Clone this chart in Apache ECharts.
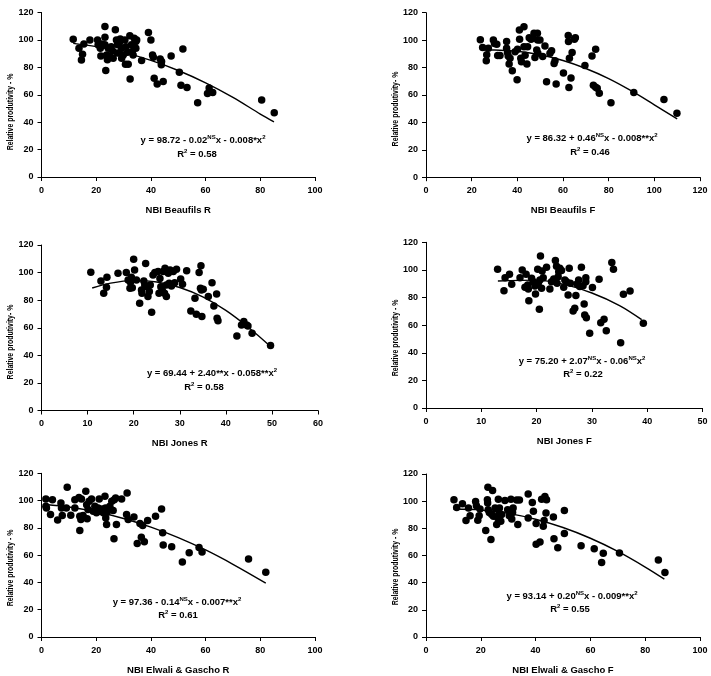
<!DOCTYPE html>
<html><head><meta charset="utf-8">
<script src="https://cdn.jsdelivr.net/npm/echarts@6/dist/echarts.min.js"></script>
<style>html,body{margin:0;padding:0;background:#fff}#c{width:711px;height:676px}</style>
</head><body><div id="c"></div>
<script>
// ---------- DATA ----------
const yTicks = [0, 20, 40, 60, 80, 100, 120];

const beaufilsR = [[11.6,100.5],[13.7,94],[15.5,97],[15,89.6],[14.6,85.3],[17.7,100],[20.5,100],[20.7,96.4],[21.5,94],[23.2,109.8],[23.2,102],[23.2,96.4],[21.7,88.2],[24.4,94],[23.8,89],[24.1,85.5],[25,87.7],[26.2,86.7],[23.5,77.7],[27,107.4],[27.4,100],[27.8,96.4],[28.8,100.6],[29.3,94],[29.9,89],[30.5,100],[30.7,82.3],[31.7,82.3],[32.3,103],[32.4,71.4],[32.9,96.4],[33.2,91.6],[33.9,101.3],[34.5,98.9],[34.5,94],[34.8,100],[30.9,95],[29.3,86.7],[27.8,90.4],[26,92],[28.5,98],[31.5,91],[33.5,89],[25.5,95],[22,97],[36.6,85],[39.1,105.4],[40,100],[40.6,89],[40.9,87.4],[41.2,72],[42.3,67.8],[43.4,86],[43.9,84.3],[43.8,81.9],[44.5,69.7],[47.4,88.2],[50.4,76.5],[51.7,93.3],[51,67],[53.2,65.3],[57.1,54.2],[60.7,61],[61.3,64.9],[62.6,61.7],[80.5,56.1],[85.1,46.9]];
const beaufilsRFit = [[11.6,97.5],[20,95.1],[30,90.9],[40,85.1],[50,77.7],[60,68.7],[70,58.1],[80,45.9],[85,40.2]];

const beaufilsF = [[23.8,100.3],[24.8,94.7],[26.4,85],[26.6,89.3],[27.3,94],[29.5,100],[30,97.6],[31,97],[31.4,88.8],[32.4,88.7],[35.3,98.9],[35.3,94],[35.7,91],[36,88.4],[36.4,82.6],[37.8,77.7],[36.8,86.7],[39,91.6],[39.9,71],[40.1,93.3],[40.9,107.4],[41,100.6],[41.5,86.7],[41.8,84.3],[42.9,109.8],[42.9,95.2],[43.4,89],[44.2,82.6],[44.5,95.2],[45.2,101.8],[46,100.6],[46.7,101.3],[47.3,105],[47.7,87.4],[48.5,92.8],[48.8,105],[48.9,100],[49,90.4],[49.9,100],[51.1,88],[52.1,95.7],[52.8,69.7],[54.3,90.4],[55,92.3],[56.1,83],[56.5,85],[57,68],[60.2,76],[62.3,103.3],[62.4,98.9],[62.8,86.7],[62.6,65.4],[63.5,72.3],[64,91],[65,100.6],[65.4,101.8],[69.6,81.4],[72.7,88.4],[73.3,67],[74.3,93.3],[74.3,65.6],[75,64.9],[75.9,61.2],[81,54.4],[91,61.7],[104.2,56.6],[109.9,46.6]];
const beaufilsFFit = [[24,93],[30,92.8],[40,91.9],[50,89.3],[60,85.1],[70,79.3],[80,71.9],[90,62.9],[100,52.8],[110,42.5]];

const jonesR = [[10.7,100.2],[12.9,93.9],[13.5,85],[14.1,89.4],[14.2,96.6],[16.6,99.5],[18.4,100],[18.8,94.6],[19.2,88.6],[19.5,96.6],[19.3,93],[19.7,89],[20,109.6],[20.2,101.9],[20.6,94.6],[21.3,77.7],[21.7,87.4],[21.8,85],[22.2,93.9],[22.4,91],[22.6,106.6],[22.8,89.8],[23.1,82.6],[23.4,86.2],[23.6,91],[23.9,71.2],[24.2,98.2],[24.6,100],[25.3,100.7],[25.5,85],[25.7,95.8],[25.9,89.8],[26.2,87.4],[26.4,100.7],[26.7,85],[26.8,103.1],[27.1,91],[27.1,82.6],[27.5,99.5],[27.7,92.2],[27.9,101.9],[28.2,90.3],[28.6,100.7],[28.9,92.7],[29.3,102.4],[30.2,95.4],[30.6,91.5],[31.5,101.4],[32.4,72.2],[33.3,81.4],[33.6,69.8],[34.2,100],[34.5,88.6],[34.6,105],[34.7,87.4],[35.1,87.9],[34.8,68.1],[36.2,82.6],[37,92.7],[37.4,75.8],[38,84.5],[38.1,66.9],[38.3,65],[42.4,54.1],[43.4,62],[43.9,64.5],[44.5,62],[44.8,61.3],[45.7,56],[49.7,47.1]];
const jonesRFit = [[11,88.8],[15,92.4],[20,94.2],[25,93.2],[30,89.2],[35,82.4],[40,72.6],[45,60],[50,45.5]];

const jonesF = [[12.95,100.4],[14.3,94.4],[14.1,85],[15.1,96.8],[15.5,89.6],[17,94.4],[17.4,100],[17.9,87.4],[18.1,96.8],[18.4,89.1],[18.5,86.2],[18.6,77.7],[19.1,93.9],[19.4,91.5],[19.7,88.4],[19.8,82.6],[20.2,100.4],[20.3,90.3],[20.5,71.5],[20.6,92.7],[20.7,110.1],[20.9,86.7],[21,99.2],[21.2,94.4],[21.8,101.9],[22.4,86.2],[22.7,91.5],[23.1,93.4],[23.4,106.9],[23.6,102.6],[23.7,90.3],[23.9,95.1],[24,98.7],[24.2,101.2],[24.5,99.5],[24.9,87.4],[25.1,92.7],[25.4,91.5],[25.7,81.8],[25.9,101.2],[26.1,90.3],[26.6,70.3],[26.9,72.2],[27.1,81.4],[27.3,89.8],[27.6,92.7],[27.8,87.9],[28.1,101.9],[28.4,88.6],[28.6,75.3],[28.7,67.4],[28.9,94.4],[28.9,91.5],[29,65.4],[29.6,54.1],[30.1,87.2],[31.3,93.2],[31.6,61.8],[32.2,64.2],[32.6,56],[33.6,105.3],[33.9,100.4],[35.2,47.3],[35.7,82.3],[36.9,84.7],[39.3,61.3]];
const jonesFFit = [[13,92],[20,92.6],[25,89.5],[30,83.3],[35,74.2],[39,64]];

const elwaliR = [[1.6,101.2],[1.6,95.8],[1.8,94.6],[3.3,89.8],[4,100.7],[5.9,85.7],[7.1,98.2],[7.3,94.6],[7.6,89],[9.4,109.8],[9.1,94.6],[10.7,89.3],[12.2,100.7],[12.2,94.6],[13.7,102.3],[14,88.6],[14,78.1],[14.6,101.2],[14.4,86.2],[15.2,89],[16.2,106.9],[16.5,97],[16.7,86.7],[17,93.4],[17.4,99.5],[18.3,101.2],[18.9,92.2],[19.5,95.8],[20.1,91],[20.7,94.6],[21.1,101.2],[21.3,92.2],[22.2,93.9],[22.6,91],[23.2,103.1],[23.4,94.6],[23.5,87.3],[23.8,82.5],[24,91.5],[25,95.8],[25.7,99.5],[26.2,92.7],[26.5,72.1],[26.6,100.7],[27.1,101.9],[27.4,82.5],[29.3,101.2],[31.3,105.5],[31.1,89.8],[31.7,86.2],[33.8,87.9],[35,68.5],[36,83.2],[36.5,73.1],[37,81.8],[37.6,69.9],[38.8,85.4],[41.7,88.6],[43.9,93.9],[44.3,76.5],[44.5,67.5],[47.6,66.1],[51.5,54.9],[54,61.7],[57.6,65.6],[58.7,62.4],[75.7,57.1],[82,47.4]];
const elwaliRFit = [[1.5,97.1],[10,95.3],[20,91.8],[30,86.9],[40,80.6],[50,72.9],[60,63.8],[70,53.3],[82,39.5]];

const elwaliF = [[10.2,101],[11.2,95.4],[13.3,98.1],[14.6,85.7],[15.5,94.9],[16.1,89.3],[18.1,99.8],[18.4,96.6],[18.9,85.9],[19.4,89.3],[19.7,94.2],[21.8,78.4],[22.4,101],[22.6,110.3],[22.5,98.6],[22.7,93.7],[23.1,91.7],[23.7,71.8],[24,90.1],[24.3,107.8],[24.6,88.9],[25.2,94.9],[25.8,82.8],[26.2,87.6],[26.4,101.5],[26.7,91.2],[26.8,94.9],[27.3,85.2],[27.6,90.1],[28.8,100.5],[29.8,93.7],[30.4,89.3],[31,101.5],[31.3,86.9],[31.6,91.7],[31.8,94.9],[33.1,100.8],[33.5,82.8],[34.1,100.8],[37.3,105.3],[37.3,87.6],[38.8,99.1],[39.2,92.5],[40.2,83.5],[40.2,68.2],[41.6,69.9],[42.2,101.5],[42.8,81.5],[43.1,85.7],[43.4,103.5],[44,101],[43.8,91.3],[46.5,88.4],[46.7,72.3],[48.1,65.7],[50.5,93.2],[50.5,76.2],[56.6,67.2],[61.4,65],[64.1,54.8],[64.7,61.6],[70.6,61.8],[84.8,56.7],[87.2,47.5]];
const elwaliFFit = [[10,94.2],[20,93.5],[30,91],[40,86.7],[50,80.6],[60,72.7],[70,63],[80,51.5],[87,42.6]];

const xTitles = ['NBI Beaufils R', 'NBI Beaufils F', 'NBI Jones R', 'NBI Jones F', 'NBI Elwali & Gascho R', 'NBI Elwali & Gascho F'];
const yTitles = ['Relative produtivity - %', 'Relative produtivity- %', 'Relative produtivity- %', 'Relative produtivity - %', 'Relative produtivity - %', 'Relative produtivity - %'];
const xMax = [100, 120, 60, 50, 100, 100];
const xStep = [20, 20, 10, 10, 20, 20];
const equations = [
  ['98.72 - 0.02', 'NS', 'x - 0.008*', '0.58'],
  ['86.32 + 0.46', 'NS', 'x - 0.008**', '0.46'],
  ['69.44 + 2.40**', '', 'x - 0.058**', '0.58'],
  ['75.20 + 2.07', 'NS', 'x - 0.06', '0.22', 'NS'],
  ['97.36 - 0.14', 'NS', 'x - 0.007**', '0.61'],
  ['93.14 + 0.20', 'NS', 'x - 0.009**', '0.55']
];
// ---------- LAYOUT ----------
const grids = [
  {left: 41.5, top: 12.5, width: 273.5, height: 164.5},
  {left: 426, top: 12.7, width: 274, height: 164.5},
  {left: 41.5, top: 245, width: 276.5, height: 165.5},
  {left: 426, top: 242.3, width: 276.5, height: 165.7},
  {left: 41.5, top: 473.3, width: 273.5, height: 165.3},
  {left: 426, top: 474, width: 274, height: 164.3}
];
const eqPos = [[203, 140], [592, 138], [212, 373], [582, 361], [177, 602], [572, 596]];
const r2Pos = [[197, 154], [590, 152], [204, 387], [583, 374], [178, 615], [570, 609]];
const yTitlePos = [[10, 112], [395, 109], [10, 342], [395, 338], [10, 568], [395, 567]];

const pts = [beaufilsR, beaufilsF, jonesR, jonesF, elwaliR, elwaliF];
const fits = [beaufilsRFit, beaufilsFFit, jonesRFit, jonesFFit, elwaliRFit, elwaliFFit];

const FONT = 'Arial, "Liberation Sans", sans-serif';
const lbl = {color: '#000', fontWeight: 'bold', fontSize: 9, fontFamily: FONT};

const xAxis = [], yAxis = [], series = [], graphic = [];
for (let i = 0; i < 6; i++) {
  const common = {
    gridIndex: i, type: 'value',
    axisLine: {show: true, onZero: false, lineStyle: {color: '#000', width: 1}},
    axisTick: {show: true, length: 4, lineStyle: {color: '#000', width: 1}},
    splitLine: {show: false}
  };
  xAxis.push(Object.assign({}, common, {
    min: 0, max: xMax[i], interval: xStep[i],
    name: xTitles[i], nameLocation: 'middle', nameGap: 28,
    nameTextStyle: Object.assign({}, lbl, {fontSize: 9.5}),
    axisLabel: Object.assign({margin: 9}, lbl)
  }));
  yAxis.push(Object.assign({}, common, {
    min: yTicks[0], max: yTicks[yTicks.length - 1], interval: yTicks[1] - yTicks[0],
    axisLabel: Object.assign({margin: 8}, lbl)
  }));
  series.push({
    type: 'scatter', xAxisIndex: i, yAxisIndex: i, data: pts[i],
    symbol: 'circle', symbolSize: 7.5, itemStyle: {color: '#000', opacity: 1}, silent: true
  });
  series.push({
    type: 'line', xAxisIndex: i, yAxisIndex: i, data: fits[i], smooth: 0.35,
    showSymbol: false, lineStyle: {color: '#000', width: 1.4}, silent: true
  });
  // y-axis title (condensed along its length like the original)
  graphic.push({type: 'text', x: yTitlePos[i][0], y: yTitlePos[i][1], rotation: Math.PI / 2, scaleX: 0.73, silent: true,
    style: {text: yTitles[i], font: 'bold 9.5px ' + FONT, fill: '#000', align: 'center', verticalAlign: 'middle'}});
  const e = equations[i];
  let txt = '{b|y = ' + e[0] + '}';
  if (e[1]) txt += '{s|' + e[1] + '}';
  txt += '{b|' + e[2] + '}';
  if (e[4]) txt += '{s|' + e[4] + '}';
  txt += '{b|x}{s|2}';
  const rich = {
    b: {fontSize: 9.5, fontWeight: 'bold', fontFamily: FONT, fill: '#000', lineHeight: 12},
    s: {fontSize: 6, fontWeight: 'bold', fontFamily: FONT, fill: '#000', lineHeight: 12, verticalAlign: 'top'}
  };
  graphic.push({type: 'text', x: eqPos[i][0], y: eqPos[i][1], silent: true,
    style: {text: txt, rich: rich, align: 'center', verticalAlign: 'middle'}});
  graphic.push({type: 'text', x: r2Pos[i][0], y: r2Pos[i][1], silent: true,
    style: {text: '{b|R}{s|2}{b| = ' + e[3] + '}', rich: rich, align: 'center', verticalAlign: 'middle'}});
}

const chart = echarts.init(document.getElementById('c'), null, {renderer: 'canvas'});
chart.setOption({
  animation: false,
  backgroundColor: '#fff',
  grid: grids.map(g => Object.assign({containLabel: false}, g)),
  xAxis, yAxis, series, graphic
});
</script></body></html>
